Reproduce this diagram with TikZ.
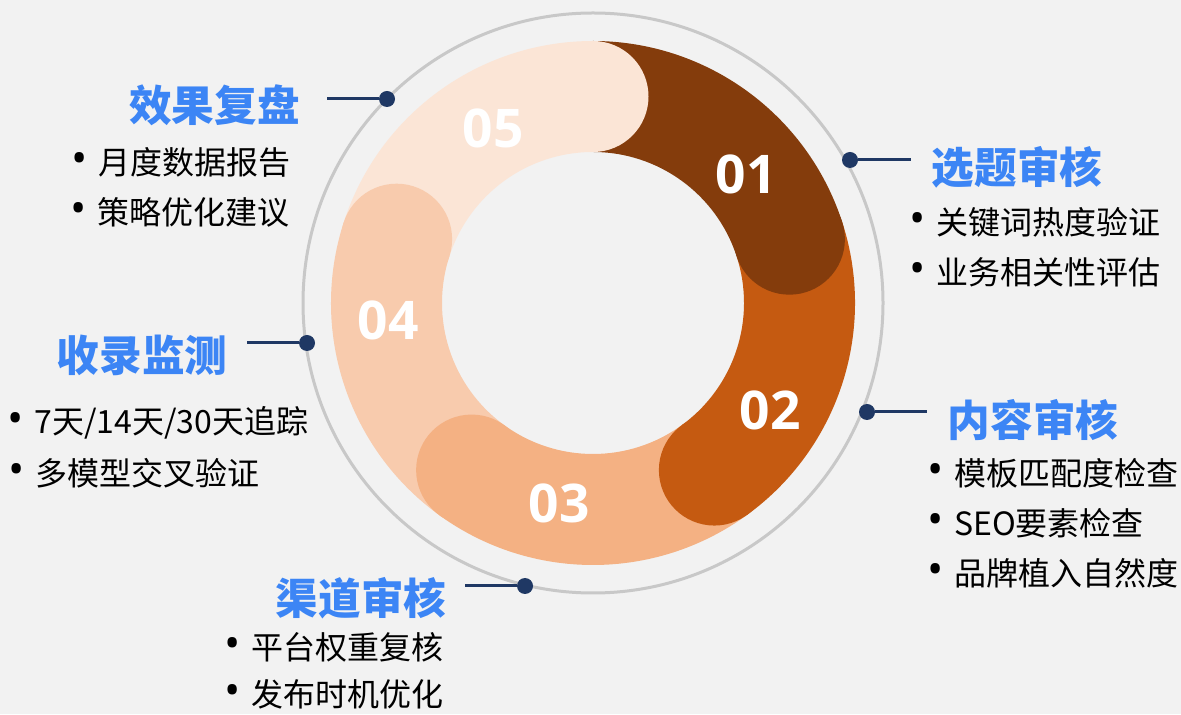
\documentclass[tikz,border=0pt]{standalone}
\usepackage{fontspec}
\usepackage{graphicx}
\setmainfont{Noto Sans CJK SC}
\newfontfamily\numfont{Open Sans}
\usetikzlibrary{calc}
\definecolor{bgc}{HTML}{F2F2F2}
\definecolor{ringc}{HTML}{C8C8C8}
\definecolor{cA}{HTML}{843C0C}
\definecolor{cB}{HTML}{C55A11}
\definecolor{cC}{HTML}{F4B183}
\definecolor{cD}{HTML}{F8CBAD}
\definecolor{cE}{HTML}{FBE5D6}
\definecolor{navyc}{HTML}{1F3864}
\definecolor{titlec}{HTML}{3C85F5}
\newcommand\bul{\llap{\makebox[28.5pt][c]{\numfont\raisebox{0.02em}{\scalebox{1.35}{•}}}}}
\begin{document}
\begin{tikzpicture}[x=0.75pt,y=0.75pt,
  num/.style={font=\numfont\bfseries\fontsize{40}{40}\selectfont, text=white, inner sep=0pt},
  ttl/.style={font=\bfseries\fontsize{32}{32}\selectfont, text=titlec, inner sep=0pt},
  itm/.style={font=\fontsize{24}{24}\selectfont, text=black, anchor=west, inner sep=0pt},
  dotnode/.style={circle, fill=navyc, minimum size=12pt, inner sep=0pt},
  conn/.style={draw=navyc, line width=2.25pt}]
\fill[bgc] (0,0) rectangle (1181,714);
\useasboundingbox (0,0) rectangle (1181,714);
\coordinate (C) at (593,411);
\draw[ringc, line width=2.25pt] (C) circle[radius=290];
% ring segments
\foreach \a/\b/\col in {90/18/cA, 18/-54/cB, -54/-126/cC, -126/-198/cD, -198/-270/cE}{
  \fill[\col] ($(C)+(\a:262)$) arc[start angle=\a, end angle=\b, radius=262]
     -- ($(C)+(\b:151)$) arc[start angle=\b, end angle=\a, radius=151] -- cycle;
}
% rounded ends overlapping the next segment
\foreach \b/\col in {18/cA, -54/cB, -126/cC, -198/cD, -270/cE}{
  \fill[\col] ($(C)+(\b:206.5)$) circle[radius=55.5];
}
% numbers
\node[num] (n1) at (746,540) {01};
\node[num] (n2) at (770,304) {02};
\node[num] (n3) at (559,211) {03};
\node[num] (n4) at (388,394) {04};
\node[num] (n5) at (493,586) {05};
% dots and connectors
\node[dotnode] (d1) at (850,554) {};
\coordinate (e1) at (911,554);
\node[dotnode] (d2) at (867,302) {};
\coordinate (e2) at (927,302);
\node[dotnode] (d3) at (525,128) {};
\coordinate (e3) at (465,128);
\node[dotnode] (d4) at (307,371) {};
\coordinate (e4) at (247,371);
\node[dotnode] (d5) at (387,615) {};
\coordinate (e5) at (327,615);
\draw[conn] (d1) -- (e1);
\draw[conn] (d2) -- (e2);
\draw[conn] (d3) -- (e3);
\draw[conn] (d4) -- (e4);
\draw[conn] (d5) -- (e5);
% titles
\node[ttl] (t1) at (1017,547) {选题审核};
\node[ttl] (t2) at (1033,294) {内容审核};
\node[ttl] (t3) at (361,116) {渠道审核};
\node[ttl] (t4) at (142,359) {收录监测};
\node[ttl] (t5) at (214.5,609) {效果复盘};
% bullet items
\node[itm] (i11) at (936,492) {\bul 关键词热度验证};
\node[itm] (i12) at (936,442) {\bul 业务相关性评估};
\node[itm] (i21) at (954,241) {\bul 模板匹配度检查};
\node[itm] (i22) at (954,191) {\bul SEO要素检查};
\node[itm] (i23) at (954,141) {\bul 品牌植入自然度};
\node[itm] (i31) at (251,67) {\bul 平台权重复核};
\node[itm] (i32) at (251,20) {\bul 发布时机优化};
\node[itm] (i41) at (34,291) {\bul 7天/14天/30天追踪};
\node[itm] (i42) at (35,241) {\bul 多模型交叉验证};
\node[itm] (i51) at (98,552) {\bul 月度数据报告};
\node[itm] (i52) at (97,502) {\bul 策略优化建议};
\end{tikzpicture}
\end{document}
